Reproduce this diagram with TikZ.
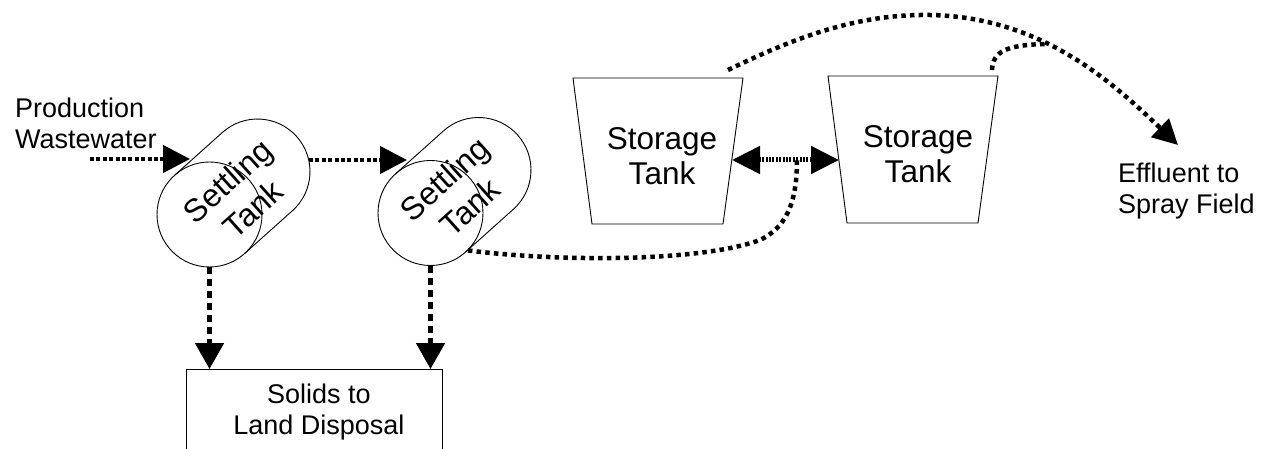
\documentclass[tikz,border=0pt]{standalone}
\usepackage{fontspec}
\setmainfont{Liberation Sans}
\usetikzlibrary{arrows.meta,calc}
\tikzset{
  outl/.style={line width=0.9pt},
  bigtip/.style={-{Triangle[length=27pt,width=27pt]}},
  finedot/.style={line width=4.5pt, dash pattern=on 4pt off 2.4pt},
  dashdown/.style={line width=5pt, dash pattern=on 7pt off 5pt},
  curvedot/.style={line width=4.5pt, dash pattern=on 4.5pt off 4.2pt},
  tinydot/.style={line width=5pt, dash pattern=on 2pt off 1.4pt},
  lbl/.style={font=\fontsize{27}{31}\selectfont, inner sep=0pt},
  settle/.style={font=\fontsize{32}{38}\selectfont, inner sep=0pt, align=center, rotate=42},
  store/.style={font=\fontsize{31.5}{35}\selectfont, inner sep=0pt, align=center, anchor=north},
  front/.style={circle, draw, outl, minimum size=105pt, inner sep=0pt},
}
\begin{document}
\begin{tikzpicture}[x=1pt,y=-1pt]
\useasboundingbox (0,0) rectangle (1267,449);
\clip (0,0) rectangle (1267,449);

% settling tank 1
\node[front] (c1f) at (209.5,214.5) {};
\draw[outl] (c1f.center) ++(-131.85:52.5) -- ++(48,-43)
  arc[start angle=-131.85,end angle=48.15,radius=52.5] -- ++(-48,43);
\node[settle] (t1) at (240,195) {Settling\\Tank};

% settling tank 2
\node[front] (c2f) at (430.5,213) {};
\draw[outl] (c2f.center) ++(-131.85:52.5) -- ++(48,-43)
  arc[start angle=-131.85,end angle=48.15,radius=52.5] -- ++(-48,43);
\node[settle] (t2) at (457,193) {Settling\\Tank};

% storage tanks
\draw[outl] (573,78) -- (743,78) -- (723,224) -- (592,224) -- cycle;
\node[store] (s1) at (662,127) {Storage\\Tank};
\draw[outl] (828,76) -- (998,76) -- (978,223) -- (847,223) -- cycle;
\node[store] (s2) at (918,125) {Storage\\Tank};

% solids box
\node[draw, outl, anchor=north west, minimum width=256pt, minimum height=100pt] (solids) at (186,369) {};
\node[lbl, align=center, anchor=north] (solidstxt) at (319,383.5) {Solids to\\Land Disposal};

% labels
\node[lbl, align=left, anchor=north west] (prod) at (15,97.5) {Production\\Wastewater};
\node[lbl, align=left, anchor=north west] (efftxt) at (1118,162.5) {Effluent to\\Spray Field};

% coordinates
\coordinate (p0) at (90,159);
\coordinate (p1) at (190,159);
\coordinate (q0) at (309,160);
\coordinate (q1) at (407,160);
\coordinate (s1r) at (732,160);
\coordinate (s2l) at (839,160);
\coordinate (jn) at (797,160);
\coordinate (s1out) at (728,70);
\coordinate (s2out) at (992,70);
\coordinate (eff) at (1178,145);
\coordinate (merge) at (1045,44);

% connectors
\draw[finedot,bigtip] (p0) -- (p1);
\draw[finedot,bigtip] (q0) -- (q1);
\draw[dashdown,-{Triangle[length=26pt,width=28pt]}] (c1f.south) -- (c1f.south |- solids.north);
\draw[dashdown,-{Triangle[length=26pt,width=28pt]}] (c2f.south) -- (c2f.south |- solids.north);
\draw[curvedot] (c2f.-45) .. controls (560,262) and (700,262) .. (760,240)
  .. controls (785,228) and (797,205) .. (jn);
\draw[tinydot,{Triangle[length=28pt,width=27pt]}-{Triangle[length=28pt,width=27pt]}] (s1r) -- (s2l);
\draw[curvedot,-{Triangle[length=25pt,width=25pt]}] (s1out) .. controls (800,35) and (860,14) .. (930,15)
  .. controls (1040,17) and (1110,80) .. (eff);
\draw[curvedot] (s2out) .. controls (993,52) and (1005,45) .. (merge);
\end{tikzpicture}
\end{document}
